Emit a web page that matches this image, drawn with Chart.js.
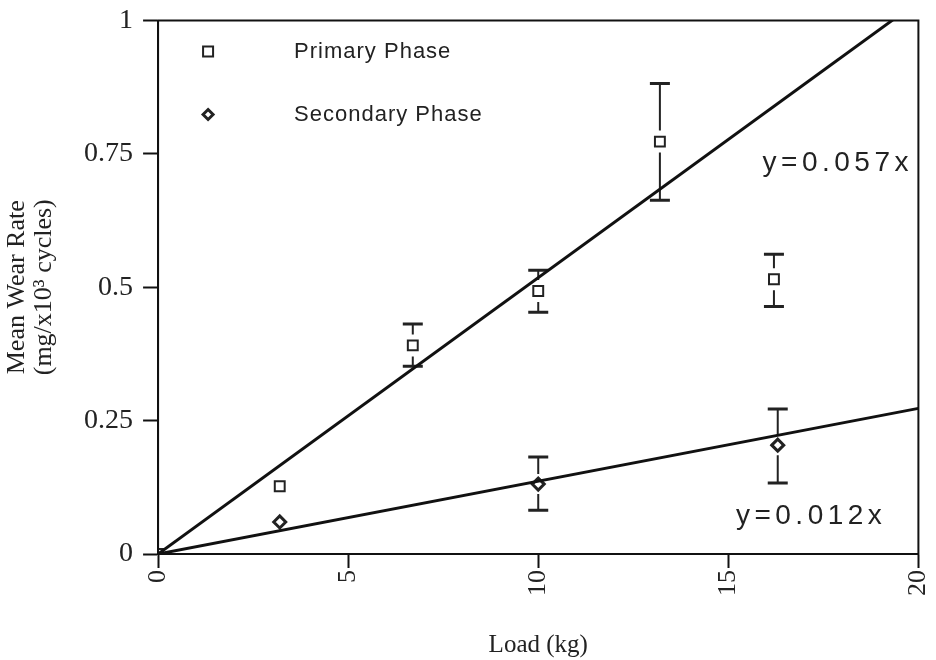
<!DOCTYPE html>
<html>
<head>
<meta charset="utf-8">
<title>Mean Wear Rate vs Load</title>
<script src="https://cdn.jsdelivr.net/npm/chart.js@4.4.0/dist/chart.umd.min.js"></script>
<style>
  html, body { margin: 0; padding: 0; background: #fff; }
  #wrap { width: 936px; height: 660px; position: relative; }
</style>
</head>
<body>
<div id="wrap"><canvas id="wearChart"></canvas></div>
<script>
// --- data ---
const xTickLabels = ['0', '5', '10', '15', '20'];
const yTickLabels = ['0', '0.25', '0.5', '0.75', '1'];

const primaryLoad = [0, 3.2, 6.7, 10.0, 13.2, 16.2];
const primaryWear = [0, 0.127, 0.391, 0.493, 0.773, 0.515];
const primaryErrLow = [null, null, 0.352, 0.453, 0.663, 0.464];
const primaryErrHigh = [null, null, 0.431, 0.532, 0.882, 0.562];

const secondaryLoad = [3.2, 10.0, 16.3];
const secondaryWear = [0.060, 0.131, 0.204];
const secondaryErrLow = [null, 0.082, 0.133];
const secondaryErrHigh = [null, 0.182, 0.272];

// fitted lines through the origin (as drawn)
const fitLoad = [0, 20];
const primaryFit = [0, 1.036];
const secondaryFit = [0, 0.273];

const seriesNames = ['Primary Phase', 'Secondary Phase'];
const fitLabels = ['y=0.057x', 'y=0.012x'];
// where the equation text sits, in data units (left, baseline)
const fitLabelAt = [[15.9, 0.717], [15.2, 0.056]];

const toPoints = (xs, ys) => xs.map((x, i) => ({ x: x, y: ys[i] }));

// --- plugins ---
const errorBars = {
    id: 'errorBars',
    beforeDatasetsDraw(chart) {
        const ctx = chart.ctx;
        const xs = chart.scales.x, ys = chart.scales.y;
        ctx.save();
        ctx.strokeStyle = '#222';
        chart.data.datasets.forEach(ds => {
            if (!ds.errLow) return;
            const gap = ds.pointRadius + 4;
            ds.data.forEach((p, i) => {
                const lo = ds.errLow[i], hi = ds.errHigh[i];
                if (lo == null || hi == null) return;
                const px = xs.getPixelForValue(p.x);
                const py = ys.getPixelForValue(p.y);
                const pLo = ys.getPixelForValue(lo);
                const pHi = ys.getPixelForValue(hi);
                ctx.lineWidth = 2;
                ctx.beginPath();
                ctx.moveTo(px, pHi); ctx.lineTo(px, Math.min(py - gap, pLo));
                ctx.moveTo(px, pLo); ctx.lineTo(px, Math.max(py + gap, pHi));
                ctx.stroke();
                ctx.lineWidth = 3;
                ctx.beginPath();
                ctx.moveTo(px - 10, pHi); ctx.lineTo(px + 10, pHi);
                ctx.moveTo(px - 10, pLo); ctx.lineTo(px + 10, pLo);
                ctx.stroke();
            });
        });
        ctx.restore();
    }
};

const frameAndNotes = {
    id: 'frameAndNotes',
    afterDraw(chart) {
        const ctx = chart.ctx;
        const a = chart.chartArea;
        const xs = chart.scales.x, ys = chart.scales.y;
        ctx.save();
        // box round the plot
        ctx.strokeStyle = '#111';
        ctx.lineWidth = 2;
        ctx.strokeRect(a.left, a.top, a.right - a.left, a.bottom - a.top);

        // legend inside the plot
        const lx = a.left + 50, ty = [a.top + 31, a.top + 94];
        ctx.fillStyle = '#fff';
        ctx.lineWidth = 2;
        ctx.strokeStyle = '#222';
        ctx.beginPath();
        ctx.rect(lx - 5, ty[0] - 5, 10, 10);
        ctx.fill(); ctx.stroke();
        ctx.lineWidth = 3;
        ctx.beginPath();
        ctx.moveTo(lx, ty[1] - 5); ctx.lineTo(lx + 5, ty[1]);
        ctx.lineTo(lx, ty[1] + 5); ctx.lineTo(lx - 5, ty[1]);
        ctx.closePath();
        ctx.fill(); ctx.stroke();

        ctx.fillStyle = '#222';
        ctx.font = '22px "Liberation Sans", Arial, sans-serif';
        ctx.textBaseline = 'middle';
        ctx.textAlign = 'left';
        ctx.letterSpacing = '1px';
        seriesNames.forEach((name, i) => ctx.fillText(name, a.left + 136, ty[i]));

        // fit equations
        ctx.font = '28px "Liberation Sans", Arial, sans-serif';
        ctx.textBaseline = 'alphabetic';
        ctx.letterSpacing = '4.5px';
        fitLabels.forEach((t, i) => {
            ctx.fillText(t, xs.getPixelForValue(fitLabelAt[i][0]), ys.getPixelForValue(fitLabelAt[i][1]));
        });
        ctx.restore();
    }
};

// --- chart ---
const serif = '"Liberation Serif", "Times New Roman", serif';

new Chart(document.getElementById('wearChart'), {
    type: 'scatter',
    data: {
        datasets: [
            {
                label: 'Primary fit',
                data: toPoints(fitLoad, primaryFit),
                showLine: true,
                borderColor: '#111',
                borderWidth: 3,
                pointRadius: 0
            },
            {
                label: 'Secondary fit',
                data: toPoints(fitLoad, secondaryFit),
                showLine: true,
                borderColor: '#111',
                borderWidth: 3,
                pointRadius: 0
            },
            {
                label: seriesNames[0],
                data: toPoints(primaryLoad, primaryWear),
                errLow: primaryErrLow,
                errHigh: primaryErrHigh,
                pointStyle: 'rect',
                pointRadius: 7,
                borderWidth: 2,
                borderColor: '#222',
                backgroundColor: '#fff'
            },
            {
                label: seriesNames[1],
                data: toPoints(secondaryLoad, secondaryWear),
                errLow: secondaryErrLow,
                errHigh: secondaryErrHigh,
                pointStyle: 'rectRot',
                pointRadius: 6,
                borderWidth: 3,
                borderColor: '#222',
                backgroundColor: '#fff'
            }
        ]
    },
    options: {
        responsive: true,
        maintainAspectRatio: false,
        animation: false,
        layout: { padding: { left: 0, right: 4, top: 17, bottom: 0 } },
        plugins: {
            legend: { display: false },
            tooltip: { enabled: false }
        },
        scales: {
            x: {
                type: 'linear',
                min: 0,
                max: 20,
                afterBuildTicks: (axis) => {
                    axis.ticks = xTickLabels.map(v => ({ value: parseFloat(v) }));
                },
                ticks: {
                    callback: (value, index) => xTickLabels[index],
                    minRotation: 90,
                    maxRotation: 90,
                    padding: 2,
                    color: '#222',
                    font: { family: serif, size: 26, lineHeight: 0.6 }
                },
                grid: {
                    drawOnChartArea: false,
                    tickLength: 14,
                    tickWidth: 2,
                    tickColor: '#111'
                },
                border: { color: '#111', width: 2 },
                title: {
                    display: true,
                    text: 'Load (kg)',
                    color: '#222',
                    font: { family: serif, size: 25, lineHeight: 1.2 },
                    padding: { top: 32, bottom: 0 }
                }
            },
            y: {
                type: 'linear',
                min: 0,
                max: 1,
                afterBuildTicks: (axis) => {
                    axis.ticks = yTickLabels.map(v => ({ value: parseFloat(v) }));
                },
                ticks: {
                    callback: (value, index) => yTickLabels[index],
                    padding: 10,
                    color: '#222',
                    font: { family: serif, size: 28, lineHeight: 0.75 }
                },
                grid: {
                    drawOnChartArea: false,
                    tickLength: 15,
                    tickWidth: 2,
                    tickColor: '#111'
                },
                border: { color: '#111', width: 2 },
                title: {
                    display: true,
                    text: ['Mean Wear Rate', '(mg/x10\u00b3 cycles)'],
                    color: '#222',
                    font: { family: serif, size: 26, lineHeight: 1.04 },
                    padding: { top: 4, bottom: 16 }
                }
            }
        }
    },
    plugins: [errorBars, frameAndNotes]
});
</script>
</body>
</html>
